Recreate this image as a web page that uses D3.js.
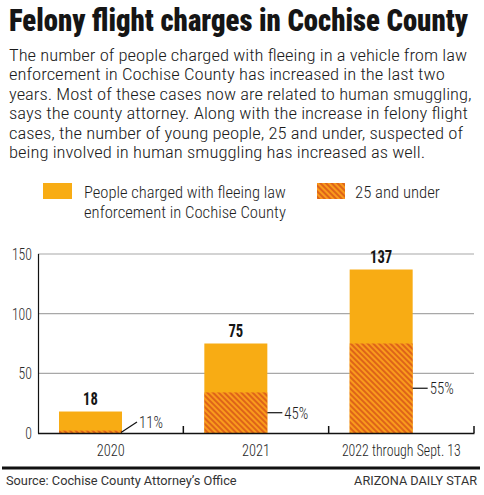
<!DOCTYPE html>
<html>
<head>
<meta charset="utf-8">
<script src="https://cdn.jsdelivr.net/npm/d3@7"></script>
<style>
  html, body { margin: 0; padding: 0; background: #fff; }
  svg { display: block; }
</style>
</head>
<body>
<svg id="chart" width="484" height="495"></svg>
<script>
// ---- data ----
const categories = ["2020", "2021", "2022 through Sept. 13"];
const totalCharged = [18, 75, 137];
const youngCharged = [2, 34, 75];
const youngPctLabels = ["11%", "45%", "55%"];
const yTicks = [0, 50, 100, 150];

const titleText = "Felony flight charges in Cochise County";
const bodyLines = [
  "The number of people charged with fleeing in a vehicle from law",
  "enforcement in Cochise County has increased in the last two",
  "years. Most of these cases now are related to human smuggling,",
  "says the county attorney. Along with the increase in felony flight",
  "cases, the number of young people, 25 and under, suspected of",
  "being involved in human smuggling has increased as well."
];
const legendLabels = [["People charged with fleeing law", "enforcement in Cochise County"], ["25 and under"]];
const sourceText = "Source: Cochise County Attorney\u2019s Office";
const creditText = "ARIZONA DAILY STAR";

// ---- styles ----
const ORANGE = "#F8AC14";
const HATCH_BG = "#F99B1C";
const HATCH_LINE = "#DE6419";
const FONT = '"Roboto Condensed", Roboto, "Liberation Sans", sans-serif';

const svg = d3.select("#chart");

// text helper: draws text at natural size, then fits horizontally with a transform to a target width
function addText(parent, o) {
  const g = parent.append("g").attr("transform", `translate(${o.x},${o.y})`);
  const t = g.append("text")
    .attr("x", 0).attr("y", 0)
    .attr("text-anchor", o.anchor || "start")
    .attr("font-family", o.family || FONT)
    .attr("font-size", o.size)
    .attr("font-weight", o.weight || 400)
    .attr("fill", o.fill || "#222")
    .text(o.text);
  if (o.dy) t.attr("dy", o.dy);
  if (o.width) {
    const w = t.node().getComputedTextLength();
    const s = o.width / w;
    g.attr("transform", `translate(${o.x},${o.y}) scale(${s},1)`);
  }
  return t;
}

// hatch pattern
const defs = svg.append("defs");
const pat = defs.append("pattern")
  .attr("id", "hatch")
  .attr("patternUnits", "userSpaceOnUse")
  .attr("width", 4).attr("height", 4)
  .attr("patternTransform", "rotate(-45)");
pat.append("rect").attr("width", 4).attr("height", 4).attr("fill", HATCH_BG);
pat.append("rect").attr("width", 2).attr("height", 4).attr("fill", HATCH_LINE);

// ---- header ----
addText(svg, { x: 9, y: 30.5, text: titleText, size: 32, weight: 900, fill: "#151515", width: 459 });

const bodyWidths = [458, 436, 463, 459, 454, 416];
bodyLines.forEach((line, i) => {
  addText(svg, { x: 9, y: 60.5 + i * 19.5, text: line, size: 16.6, weight: 300, fill: "#1a1a1a", width: bodyWidths[i] });
});

// ---- legend ----
const leg = svg.append("g");
leg.append("rect").attr("x", 43).attr("y", 183).attr("width", 29).attr("height", 16).attr("fill", ORANGE);
leg.append("rect").attr("x", 317).attr("y", 183).attr("width", 28).attr("height", 16).attr("fill", "url(#hatch)");
legendLabels[0].forEach((line, i) => {
  addText(leg, { x: 84, y: 198 + i * 20, text: line, size: 16.5, weight: 300, fill: "#1e1e1e", width: 202 });
});
addText(leg, { x: 355, y: 198, text: legendLabels[1][0], size: 16.5, weight: 300, fill: "#1e1e1e", width: 85 });

// ---- chart ----
const x = d3.scaleBand().domain(categories).range([38, 474]).padding(0);
const y = d3.scaleLinear().domain([0, 150]).range([433, 254]);
const barOffset = 21, barW = 63;

// gridlines
svg.append("g").selectAll("line").data(yTicks.filter(t => t > 0)).join("line")
  .attr("x1", 38).attr("x2", 474)
  .attr("y1", d => y(d)).attr("y2", d => y(d))
  .attr("stroke", "#a8a8a8").attr("stroke-width", 1.2);

// y tick labels
const yl = svg.append("g");
yTicks.forEach(t => {
  addText(yl, { x: 32, y: y(t), dy: "0.36em", text: String(t), anchor: "end", size: 16.5, weight: 300, fill: "#2a2a2a", width: String(t).length * 6.7 });
});

const data = categories.map((c, i) => ({ c, total: totalCharged[i], young: youngCharged[i], pct: youngPctLabels[i] }));

// bars
const bars = svg.append("g");
bars.selectAll("rect.total").data(data).join("rect")
  .attr("class", "total")
  .attr("x", d => x(d.c) + barOffset).attr("width", barW)
  .attr("y", d => y(d.total)).attr("height", d => y(0) - y(d.total))
  .attr("fill", ORANGE);
bars.selectAll("rect.young").data(data).join("rect")
  .attr("class", "young")
  .attr("x", d => x(d.c) + barOffset).attr("width", barW)
  .attr("y", d => y(d.young)).attr("height", d => y(0) - y(d.young))
  .attr("fill", "url(#hatch)");

// value labels
const vl = svg.append("g");
data.forEach(d => {
  const s = String(d.total);
  addText(vl, { x: x(d.c) + barOffset + barW / 2, y: y(d.total) - 7, text: s, anchor: "middle", size: 18, weight: 700, fill: "#151515", width: s.length * 7.4 });
});

// percentage labels with leaders
const pg = svg.append("g");
data.forEach(d => {
  const right = x(d.c) + barOffset + barW;
  const mid = (y(d.young) + y(0)) / 2;
  const ly = Math.min(mid, y(0) - 11);
  const diag = ly < mid - 1;
  pg.append("line")
    .attr("x1", diag ? right - 1 : right).attr("y1", diag ? y(0) - 0.5 : mid)
    .attr("x2", right + 15).attr("y2", ly)
    .attr("stroke", "#111").attr("stroke-width", 1.2);
  addText(pg, { x: right + 17, y: ly, dy: "0.36em", text: d.pct, size: 16.5, weight: 300, fill: "#1e1e1e", width: 24 });
});

// axes
svg.append("line").attr("x1", 38.5).attr("x2", 38.5).attr("y1", 254).attr("y2", 433.5)
  .attr("stroke", "#111").attr("stroke-width", 1.2);
svg.append("line").attr("x1", 38).attr("x2", 474.5).attr("y1", 433.5).attr("y2", 433.5)
  .attr("stroke", "#111").attr("stroke-width", 1.5);
svg.append("g").selectAll("line").data(categories).join("line")
  .attr("x1", d => x(d) + x.bandwidth()).attr("x2", d => x(d) + x.bandwidth())
  .attr("y1", 433).attr("y2", 426)
  .attr("stroke", "#111").attr("stroke-width", 1.5);

// category labels
const cl = svg.append("g");
const catWidths = [28, 28, 119];
categories.forEach((c, i) => {
  addText(cl, { x: x(c) + x.bandwidth() / 2, y: 456, text: c, anchor: "middle", size: 16, weight: 300, fill: "#1e1e1e", width: catWidths[i] });
});

// footer
svg.append("rect").attr("x", 2).attr("y", 466.5).attr("width", 478).attr("height", 3).attr("fill", "#111");
addText(svg, { x: 6, y: 485, text: sourceText, family: "Roboto, sans-serif", size: 13, weight: 400, fill: "#333", width: 231 });
addText(svg, { x: 477, y: 485, text: creditText, anchor: "end", family: "Roboto, sans-serif", size: 12.5, weight: 400, fill: "#333", width: 123 });
</script>
</body>
</html>
